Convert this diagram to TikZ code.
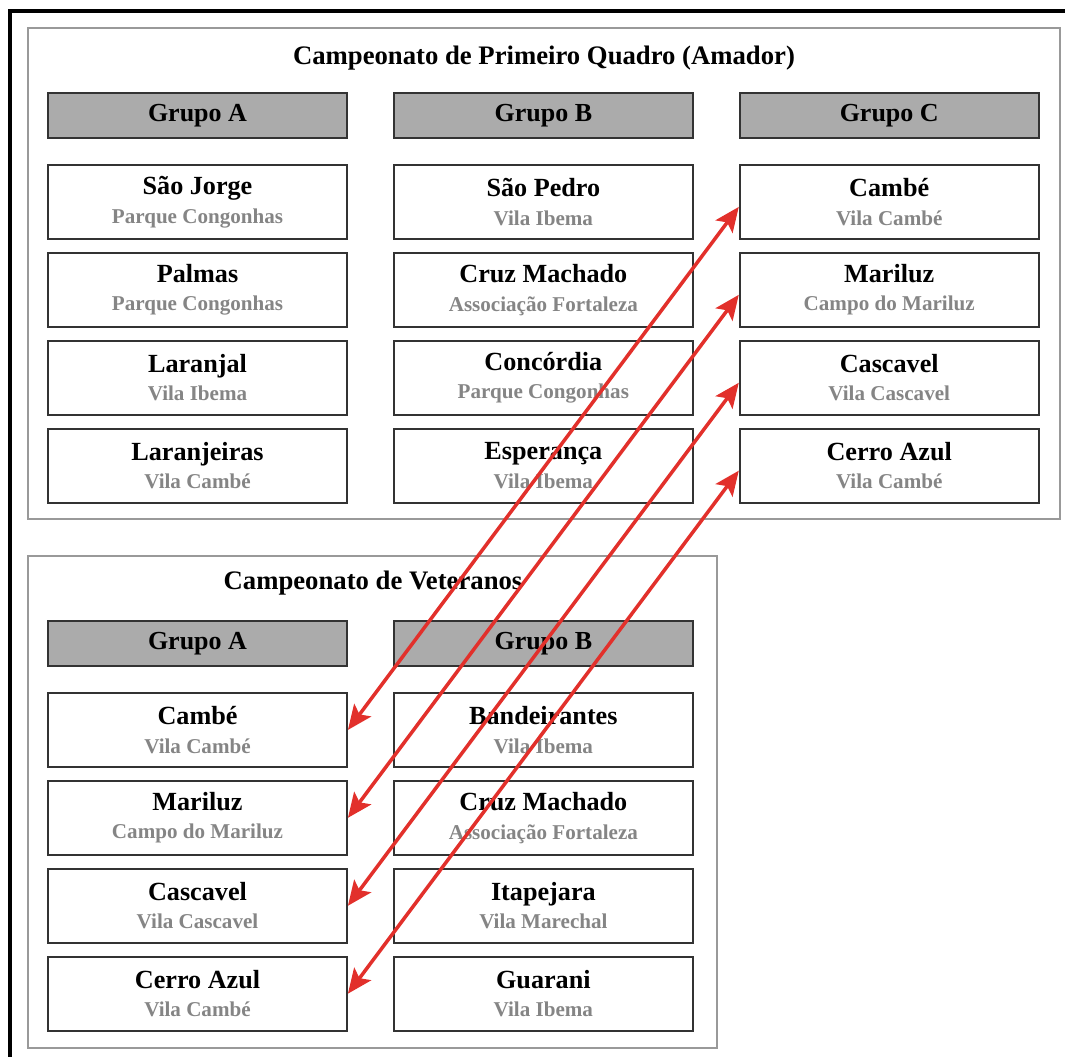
\documentclass[tikz,border=0pt]{standalone}
\usepackage{fontspec}
\setmainfont{Liberation Serif}
\usetikzlibrary{positioning,arrows.meta}
\definecolor{grpgray}{HTML}{ABABAB}
\definecolor{placegray}{HTML}{858585}
\definecolor{linkred}{HTML}{E2302B}
\newcommand{\clube}[2]{{\fontsize{14.9}{16}\selectfont\bfseries #1}\\[4.3pt]{\fontsize{12}{13}\selectfont\bfseries\color{placegray}#2}}
\tikzset{
  team/.style={draw=black!80, line width=1.1pt, fill=white, minimum width=5.98cm,
    minimum height=1.48cm, align=center, inner sep=0pt},
  grp/.style={team, fill=grpgray, minimum height=0.9cm, font=\fontsize{14.8}{16}\selectfont\bfseries},
  panel/.style={draw=black!40, line width=0.7pt},
  ptitle/.style={font=\fontsize{15.2}{17}\selectfont\bfseries},
  link/.style={draw=linkred, line width=2pt,
    {Stealth[length=14pt,width=12pt,inset=3pt]}-{Stealth[length=14pt,width=12pt,inset=3pt]}},
}

\begin{document}
\begin{tikzpicture}[x=0.02cm, y=-0.02cm]
  \useasboundingbox (0,0) rectangle (1065,1057);
  % Frame
  \draw[line width=2.3pt] (10,1057) -- (10,11) -- (1065,11);

  % Primeiro quadro
  \draw[panel] (28,28) rectangle (1060,519);
  \node[ptitle] (tp) at (544,58) {Campeonato de Primeiro Quadro (Amador)};
  \node[grp] (gA) at (197.5,115.5) {Grupo A};
  \node[grp, right=0.9cm of gA] (gB) {Grupo B};
  \node[grp, right=0.9cm of gB] (gC) {Grupo C};

  \node[team, below=0.5cm of gA]  (pA1) {\clube{São Jorge}{Parque Congonhas}};
  \node[team, below=0.24cm of pA1] (pA2) {\clube{Palmas}{Parque Congonhas}};
  \node[team, below=0.24cm of pA2] (pA3) {\clube{Laranjal}{Vila Ibema}};
  \node[team, below=0.24cm of pA3] (pA4) {\clube{Laranjeiras}{Vila Cambé}};

  \node[team, below=0.5cm of gB]  (pB1) {\clube{São Pedro}{Vila Ibema}};
  \node[team, below=0.24cm of pB1] (pB2) {\clube{Cruz Machado}{Associação Fortaleza}};
  \node[team, below=0.24cm of pB2] (pB3) {\clube{Concórdia}{Parque Congonhas}};
  \node[team, below=0.24cm of pB3] (pB4) {\clube{Esperança}{Vila Ibema}};

  \node[team, below=0.5cm of gC]  (pC1) {\clube{Cambé}{Vila Cambé}};
  \node[team, below=0.24cm of pC1] (pC2) {\clube{Mariluz}{Campo do Mariluz}};
  \node[team, below=0.24cm of pC2] (pC3) {\clube{Cascavel}{Vila Cascavel}};
  \node[team, below=0.24cm of pC3] (pC4) {\clube{Cerro Azul}{Vila Cambé}};

  % Veteranos
  \draw[panel] (28,556) rectangle (717,1048);
  \node[ptitle] (tv) at (373,583) {Campeonato de Veteranos};
  \node[grp] (vgA) at (197.5,643.5) {Grupo A};
  \node[grp, right=0.9cm of vgA] (vgB) {Grupo B};

  \node[team, below=0.5cm of vgA]  (vA1) {\clube{Cambé}{Vila Cambé}};
  \node[team, below=0.24cm of vA1] (vA2) {\clube{Mariluz}{Campo do Mariluz}};
  \node[team, below=0.24cm of vA2] (vA3) {\clube{Cascavel}{Vila Cascavel}};
  \node[team, below=0.24cm of vA3] (vA4) {\clube{Cerro Azul}{Vila Cambé}};

  \node[team, below=0.5cm of vgB]  (vB1) {\clube{Bandeirantes}{Vila Ibema}};
  \node[team, below=0.24cm of vB1] (vB2) {\clube{Cruz Machado}{Associação Fortaleza}};
  \node[team, below=0.24cm of vB2] (vB3) {\clube{Itapejara}{Vila Marechal}};
  \node[team, below=0.24cm of vB3] (vB4) {\clube{Guarani}{Vila Ibema}};

  % Links
  \draw[link] (vA1.east) -- ([yshift=-0.1cm]pC1.west);
  \draw[link] (vA2.east) -- ([yshift=-0.1cm]pC2.west);
  \draw[link] (vA3.east) -- ([yshift=-0.1cm]pC3.west);
  \draw[link] (vA4.east) -- ([yshift=-0.1cm]pC4.west);
\end{tikzpicture}
\end{document}
